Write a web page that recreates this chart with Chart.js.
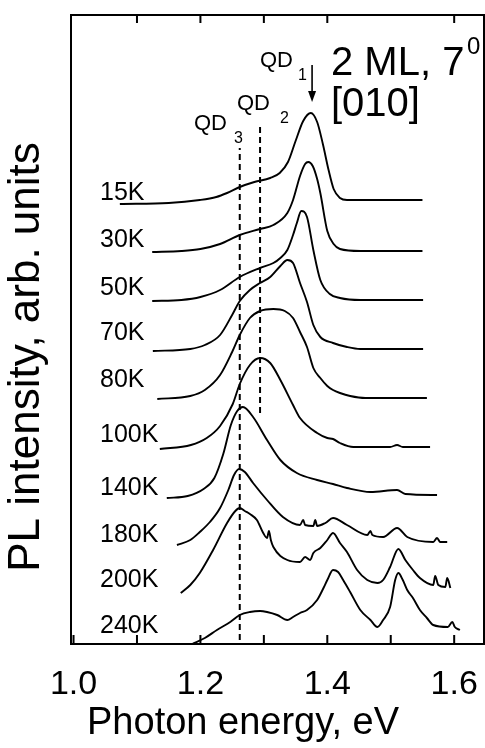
<!DOCTYPE html>
<html>
<head>
<meta charset="utf-8">
<script src="https://cdn.jsdelivr.net/npm/chart.js@4.4.1/dist/chart.umd.min.js"></script>
<style>
  html, body { margin: 0; padding: 0; background: #fff; }
  canvas { display: block; }
</style>
</head>
<body>
<canvas id="plChart" width="485" height="748"></canvas>
<script>
const temperatures = ["15K", "30K", "50K", "70K", "80K", "100K", "140K", "180K", "200K", "240K"];

// [photon energy eV, PL intensity arb. units incl. vertical offset]
const pl15K = [[1.073,440],[1.150,441],[1.199,444],[1.225,447],[1.242,451],[1.262,457],[1.285,462],[1.310,466],[1.325,471],[1.338,482],[1.350,503],[1.362,523],[1.374,531],[1.384,522],[1.393,500],[1.402,474],[1.410,455],[1.420,446],[1.431,444],[1.470,444],[1.550,444]];
const pl30K = [[1.124,392],[1.170,393],[1.200,395],[1.231,400],[1.262,409],[1.294,415],[1.315,419],[1.337,431],[1.346,444],[1.357,468],[1.365,480],[1.370,482],[1.377,478],[1.384,465],[1.389,451],[1.400,413],[1.410,400],[1.420,395],[1.452,393],[1.550,393]];
const pl50K = [[1.124,343],[1.170,344],[1.200,347],[1.231,354],[1.262,367],[1.294,376],[1.315,381],[1.326,386],[1.337,394],[1.346,409],[1.352,421],[1.359,433],[1.368,427],[1.378,394],[1.389,364],[1.404,350],[1.420,346],[1.452,344],[1.551,344]];
const pl70K = [[1.125,293],[1.184,295],[1.207,299],[1.231,309],[1.250,329],[1.262,343],[1.278,354],[1.294,361],[1.310,367],[1.326,378],[1.337,384],[1.346,381],[1.357,361],[1.368,342],[1.378,319],[1.389,307],[1.409,301],[1.431,297],[1.452,295],[1.551,295]];
const pl80K = [[1.132,245],[1.184,248],[1.207,254],[1.231,269],[1.250,292],[1.262,309],[1.278,326],[1.294,333],[1.315,335],[1.333,333],[1.346,326],[1.357,312],[1.368,297],[1.378,276],[1.389,266],[1.400,258],[1.409,254],[1.420,251],[1.436,248],[1.460,246],[1.557,246]];
const pl100K = [[1.136,195],[1.185,199],[1.210,206],[1.231,218],[1.251,240],[1.262,260],[1.278,279],[1.294,286],[1.310,281],[1.326,264],[1.346,239],[1.357,226],[1.384,211],[1.400,206],[1.409,205],[1.420,201],[1.441,197],[1.499,197],[1.510,199],[1.519,197],[1.562,197]];
const pl140K = [[1.147,146],[1.180,148],[1.205,155],[1.222,166],[1.236,190],[1.248,219],[1.258,233],[1.267,237],[1.283,227],[1.305,204],[1.326,184],[1.352,171],[1.384,164],[1.409,160],[1.431,156],[1.468,152],[1.510,154],[1.523,150],[1.573,149]];
const pl180K = [[1.163,99],[1.184,104],[1.199,112],[1.215,122],[1.231,136],[1.244,154],[1.253,169],[1.261,175],[1.270,172],[1.283,161],[1.305,144],[1.330,127],[1.357,119],[1.362,124],[1.365,119],[1.378,118],[1.381,124],[1.384,118],[1.397,121],[1.409,126],[1.431,119],[1.463,109],[1.468,113],[1.471,109],[1.488,107],[1.510,116],[1.526,107],[1.567,102],[1.573,106],[1.578,102],[1.589,102]];
const pl200K = [[1.169,51],[1.184,59],[1.199,71],[1.220,94],[1.242,121],[1.255,133],[1.262,136],[1.270,133],[1.278,130],[1.289,124],[1.299,111],[1.305,106],[1.308,113],[1.311,104],[1.315,97],[1.337,84],[1.357,82],[1.365,87],[1.373,84],[1.378,91],[1.389,96],[1.400,104],[1.409,111],[1.420,101],[1.431,92],[1.447,74],[1.463,64],[1.479,61],[1.488,64],[1.499,77],[1.512,95],[1.523,84],[1.535,74],[1.546,66],[1.567,59],[1.570,68],[1.575,59],[1.586,57],[1.589,66],[1.594,56]];
const pl240K = [[1.187,0],[1.207,6],[1.226,14],[1.247,22],[1.262,29],[1.278,32],[1.294,33],[1.305,32],[1.321,29],[1.337,24],[1.346,27],[1.357,31],[1.368,34],[1.384,44],[1.394,56],[1.400,64],[1.409,74],[1.417,72],[1.425,64],[1.436,52],[1.452,34],[1.468,24],[1.479,17],[1.488,24],[1.499,37],[1.507,64],[1.512,71],[1.519,64],[1.526,54],[1.535,46],[1.546,34],[1.557,26],[1.567,19],[1.590,17],[1.597,22],[1.601,17],[1.609,14]];

const curves = [pl15K, pl30K, pl50K, pl70K, pl80K, pl100K, pl140K, pl180K, pl200K, pl240K];

const tickValues = [1.0, 1.1, 1.2, 1.3, 1.4, 1.5, 1.6];
const topTickValues = [1.1, 1.2, 1.3, 1.4, 1.6];

const qd3Line = [[1.262, 4], [1.262, 496]];
const qd2Line = [[1.294, 231], [1.294, 519]];
const qd1Arrow = [[1.376, 579], [1.376, 552]];

const FONT = "'Liberation Sans', Arial, Helvetica, sans-serif";
// label baselines in canvas pixels
const labelBaselines = [200, 247, 295, 340, 387, 442, 495, 542, 587, 633];

function toPoints(arr) {
  return arr.map(p => ({ x: p[0], y: p[1] }));
}

const datasets = curves.map((c, i) => ({
  label: temperatures[i],
  data: toPoints(c),
  borderColor: "#000",
  borderWidth: 1.9,
  pointRadius: 0,
  cubicInterpolationMode: "monotone",
  fill: false
}));

[qd3Line, qd2Line].forEach(l => {
  datasets.push({
    data: toPoints(l),
    borderColor: "#000",
    borderWidth: 2,
    borderDash: [6, 4],
    pointRadius: 0
  });
});

datasets.push({
  data: toPoints(qd1Arrow),
  borderColor: "#000",
  borderWidth: 1.6,
  pointRadius: 0
});

const decorations = {
  id: "decorations",
  afterDatasetsDraw(chart) {
    const { ctx, chartArea: ca, scales: { x, y } } = chart;
    ctx.save();
    ctx.strokeStyle = "#000";
    ctx.fillStyle = "#000";
    ctx.lineWidth = 2;
    ctx.strokeRect(ca.left, ca.top, ca.right - ca.left, ca.bottom - ca.top);

    ctx.beginPath();
    tickValues.forEach(v => {
      const px = x.getPixelForValue(v);
      ctx.moveTo(px, ca.bottom);
      ctx.lineTo(px, ca.bottom - 9);
    });
    topTickValues.forEach(v => {
      const px = x.getPixelForValue(v);
      ctx.moveTo(px, ca.top);
      ctx.lineTo(px, ca.top + 8);
    });
    ctx.stroke();

    // arrow head for QD1
    const ax = x.getPixelForValue(qd1Arrow[1][0]);
    const ay = y.getPixelForValue(qd1Arrow[1][1]);
    ctx.beginPath();
    ctx.moveTo(ax - 4, ay - 1);
    ctx.lineTo(ax + 4, ay - 1);
    ctx.lineTo(ax, ay + 10);
    ctx.closePath();
    ctx.fill();

    ctx.textAlign = "left";
    ctx.textBaseline = "alphabetic";

    ctx.font = "25px " + FONT;
    temperatures.forEach((t, i) => ctx.fillText(t, 100, labelBaselines[i]));

    ctx.font = "22px " + FONT;
    ctx.fillText("QD", 260, 67);
    ctx.fillText("QD", 237, 110);
    ctx.fillText("QD", 194, 130);
    ctx.font = "16px " + FONT;
    ctx.fillText("1", 298, 80);
    ctx.fillText("2", 280, 123);
    ctx.fillText("3", 234, 143);

    ctx.font = "40px " + FONT;
    ctx.fillText("2 ML, 7", 331, 75);
    ctx.fillText("[010]", 331, 116);
    ctx.font = "24px " + FONT;
    ctx.fillText("0", 467, 54);

    // x axis title
    ctx.textAlign = "center";
    ctx.font = "38px " + FONT;
    ctx.fillText("Photon energy, eV", 243, 734);

    // y axis title
    ctx.translate(27, 357);
    ctx.rotate(-Math.PI / 2);
    ctx.textBaseline = "middle";
    ctx.font = "44px " + FONT;
    ctx.fillText("PL intensity, arb. units", 0, 0);
    ctx.restore();
  }
};

new Chart(document.getElementById("plChart"), {
  type: "line",
  data: { datasets },
  options: {
    responsive: false,
    animation: false,
    devicePixelRatio: 1,
    layout: { padding: { left: 71, right: 1, top: 15, bottom: 0 } },
    plugins: {
      legend: { display: false },
      tooltip: { enabled: false }
    },
    scales: {
      x: {
        type: "linear",
        min: 0.996,
        max: 1.647,
        afterBuildTicks: s => { s.ticks = tickValues.map(v => ({ value: v })); },
        afterFit: s => {
          s.height = 104;
          s.paddingLeft = 0;
          s.paddingRight = 0;
        },
        grid: { display: false, drawTicks: false },
        border: { display: false },
        ticks: {
          color: "#000",
          font: { family: FONT, size: 34 },
          padding: 20,
          maxRotation: 0,
          autoSkip: false,
          callback: v => (Math.round(v * 10) % 2 === 0 ? v.toFixed(1) : "")
        },
        title: { display: false }
      },
      y: {
        type: "linear",
        min: 0,
        max: 629,
        display: false
      }
    }
  },
  plugins: [decorations]
});
</script>
</body>
</html>
